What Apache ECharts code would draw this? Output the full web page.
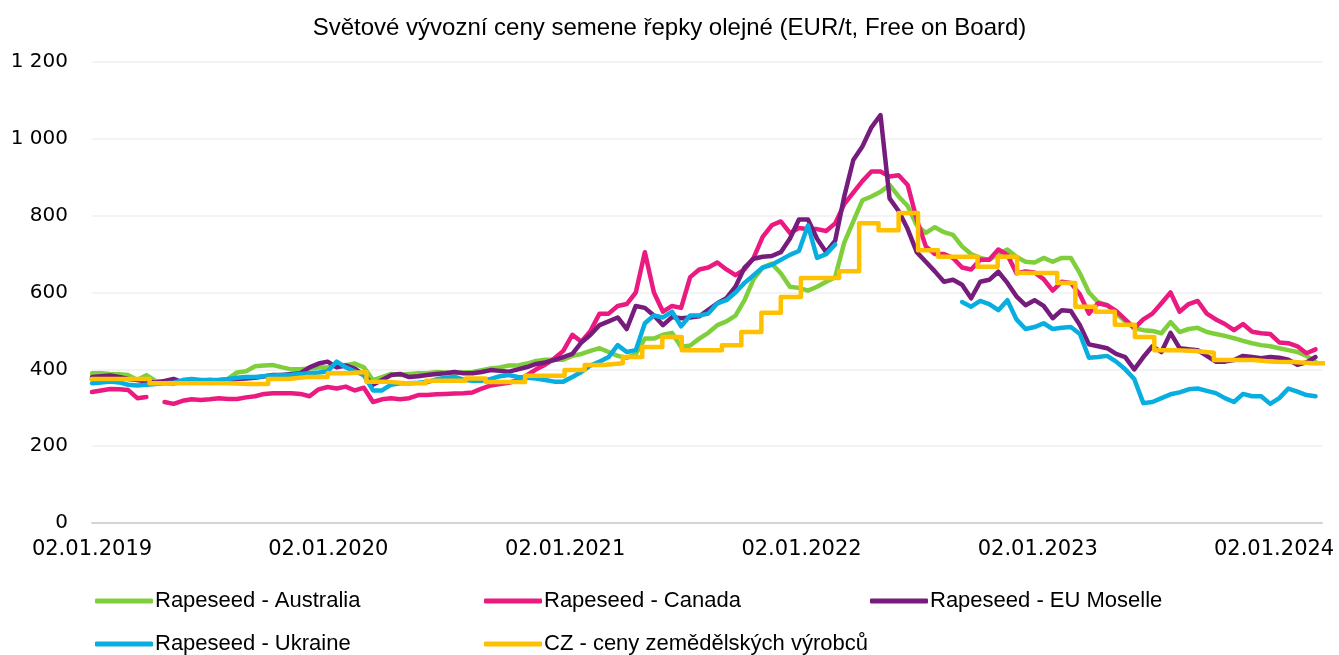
<!DOCTYPE html>
<html>
<head>
<meta charset="utf-8">
<title>Světové vývozní ceny semene řepky olejné</title>
<script src="https://cdn.jsdelivr.net/npm/echarts@6/dist/echarts.min.js"></script>
<style>
  html, body { margin: 0; padding: 0; background: #fff; }
  #chart { width: 1339px; height: 655px; }
</style>
</head>
<body>
<div id="chart"></div>
<script>
// weekly exchange data sampled every 14 days, starting 2. 1. 2019
const startDate = [2019, 0, 2]
const stepDays = 14

const australia = [
  390, 390, 388, 387, 385, 372, 385, 370, 365, 362, 368, 370, 370, 368, 370, 375, 392, 395, 408, 410,
  411, 405, 400, 400, 402, 405, 405, 410, 411, 415, 405, 372, 380, 388, 385, 388, 390, 390, 393, 392,
  390, 392, 393, 398, 402, 405, 410, 410, 415, 422, 425, 425, 425, 435, 440, 448, 455, 445, 435, 430,
  440, 480, 480, 490, 495, 458, 462, 480, 495, 515, 525, 540, 580, 635, 665, 675, 650, 615, 612, 605,
  615, 628, 640, 730, 785, 840, 850, 862, 880, 850, 825, 775, 755, 770, 757, 750, 720, 700, 690, 685,
  700, 712, 693, 680, 678, 690, 680, 690, 690, 650, 600, 575, 567, 545, 525, 507, 502, 500, 494, 523,
  497, 505, 508, 497, 492, 487, 481, 474, 468, 463, 460, 455, 450, 445, 435, 420
]
const canada = [
  341, 345, 349, 348, 346, 325, 328, null, 315, 310, 318, 322, 320, 322, 325, 323, 323, 327, 330, 336,
  338, 338, 338, 336, 330, 348, 354, 350, 355, 345, 352, 315, 322, 325, 322, 325, 333, 333, 335, 336,
  337, 338, 340, 350, 358, 362, 365, 372, 385, 400, 412, 428, 448, 490, 472, 500, 545, 545, 565, 570,
  600, 705, 600, 550, 565, 560, 640, 660, 665, 678, 660, 645, 660, 690, 745, 775, 785, 755, 768, 765,
  765, 760, 780, 830, 860, 890, 915, 915, 902, 905, 880, 790, 720, 700, 700, 690, 665, 660, 685, 685,
  712, 698, 650, 655, 652, 635, 605, 628, 625, 595, 545, 572, 567, 552, 530, 507, 530, 545, 572, 600,
  550, 570, 578, 545, 530, 518, 502, 518, 498, 494, 492, 470, 468, 460, 442, 452
]
const euMoselle = [
  380, 382, 384, 380, 375, 372, 368, 366, 370, 375, 366, 368, 370, 372, 370, 372, 375, 376, 378, 382,
  385, 385, 388, 390, 405, 415, 420, 405, 410, 402, 385, 360, 372, 385, 388, 380, 382, 385, 388, 390,
  393, 390, 390, 393, 398, 396, 394, 400, 406, 414, 418, 424, 432, 440, 470, 490, 515, 525, 535, 505,
  565, 560, 540, 515, 536, 533, 535, 538, 555, 572, 585, 615, 665, 688, 693, 695, 705, 740, 790, 790,
  740, 705, 735, 850, 945, 980, 1030, 1062, 845, 812, 765, 705, 680, 655, 628, 633, 620, 585, 628, 633,
  654, 625, 590, 567, 580, 565, 533, 554, 552, 515, 465, 460, 455, 440, 432, 400, 432, 460, 445, 495,
  455, 452, 450, 435, 420, 420, 424, 435, 432, 429, 432, 430, 425, 412, 418, 432
]
const ukraine = [
  364, 366, 368, 366, 360, 358, 360, 362, 364, 365, 372, 375, 372, 372, 373, 375, 378, 380, 380, 382,
  384, 385, 386, 388, 390, 392, 395, 420, 405, 395, 385, 345, 345, 360, 364, 364, 365, 367, 374, 378,
  380, 373, 370, 370, 375, 382, 385, 380, 378, 376, 372, 368, 368, 380, 393, 410, 420, 432, 463, 445,
  450, 520, 540, 535, 550, 512, 540, 540, 545, 572, 580, 600, 625, 645, 665, 672, 685, 698, 708, 775,
  690, 700, 725, null, null, null, null, null, null, null, null, null, null, null, null, null, 575, 563, 578, 570,
  554, 580, 530, 505, 510, 520, 505, 508, 510, 492, 430, 432, 435, 420, 400, 375, 312, 315, 325, 335,
  340, 348, 350, 344, 338, 325, 315, 336, 330, 330, 310, 325, 350, 342, 333, 330
]

// CZ monthly producer prices, Jan 2019 .. Apr 2024 (held as steps)
const czStartMonth = [2019, 0]
const czPrices = [
  375, 375, 375, 364, 364, 364, 364, 362, 362, 375, 380, 380,
  390, 393, 368, 364, 364, 370, 370, 376, 367, 367, 383, 383,
  398, 411, 416, 432, 458, 484, 450, 450, 463, 497, 547, 588,
  638, 638, 655, 780, 762, 807, 710, 693, 693, 667, 693, 651,
  651, 625, 563, 550, 516, 484, 450, 448, 443, 424, 424, 420,
  419, 416, 416, 416
]

const seriesNames = [
  'Rapeseed - Australia',
  'Rapeseed - Canada',
  'Rapeseed - EU Moselle',
  'Rapeseed - Ukraine',
  'CZ - ceny zemědělských výrobců'
]
const seriesColors = ['#7fcf3c', '#ea1a80', '#751c7c', '#07aedf', '#ffc000']

const xTickDates = ['2019-01-02', '2020-01-02', '2021-01-02', '2022-01-02', '2023-01-02', '2024-01-02']
const xMin = '2019-01-02'
const xMax = '2024-03-16'
const yTicks = [0, 200, 400, 600, 800, 1000, 1200]

const toTime = (s) => {
  const p = s.split('-').map(Number)
  return new Date(p[0], p[1] - 1, p[2]).getTime()
}
const weeklyPairs = (values) =>
  values.map((v, i) => [new Date(startDate[0], startDate[1], startDate[2] + stepDays * i).getTime(), v])
const monthlyPairs = (values) =>
  values.map((v, i) => [new Date(czStartMonth[0], czStartMonth[1] + i, 1).getTime(), v])

const pad = (n) => (n < 10 ? '0' + n : '' + n)
const fmtDate = (t) => {
  const d = new Date(t)
  return pad(d.getDate()) + '.' + pad(d.getMonth() + 1) + '.' + d.getFullYear()
}
const fmtNum = (v) => String(v).replace(/\B(?=(\d{3})+(?!\d))/g, ' ')

const chart = echarts.init(document.getElementById('chart'), null, { renderer: 'canvas' })

const lineSeries = (name, color, data, extra) =>
  Object.assign(
    {
      name: name,
      type: 'line',
      data: data,
      showSymbol: false,
      symbol: 'none',
      connectNulls: false,
      lineStyle: { color: color, width: 4.5, cap: 'round', join: 'round' },
      itemStyle: { color: color },
      emphasis: { disabled: true }
    },
    extra || {}
  )

const legendPos = [
  { left: 95, top: 590 },
  { left: 484, top: 590 },
  { left: 870, top: 590 },
  { left: 95, top: 633 },
  { left: 484, top: 633 }
]

chart.setOption({
  animation: false,
  backgroundColor: '#fff',
  textStyle: { fontFamily: 'Liberation Sans, Arial, sans-serif' },
  title: {
    text: 'Světové vývozní ceny semene řepky olejné (EUR/t, Free on Board)',
    left: 'center',
    top: 11,
    textStyle: { fontSize: 24, fontWeight: 'normal', color: '#000', fontFamily: 'Liberation Sans, Arial, sans-serif' }
  },
  legend: seriesNames.map((name, i) => ({
    data: [name],
    left: legendPos[i].left,
    top: legendPos[i].top,
    padding: 0,
    icon: 'roundRect',
    itemWidth: 58,
    itemHeight: 5,
    selectedMode: false,
    textStyle: { fontSize: 22, color: '#000', padding: [0, 0, 0, -3] }
  })),
  grid: { left: 92, right: 17, top: 62, bottom: 132 },
  xAxis: {
    type: 'value',
    min: toTime(xMin),
    max: toTime(xMax),
    axisLine: { show: true, lineStyle: { color: '#d4d4d4', width: 2 } },
    axisTick: { show: false },
    splitLine: { show: false },
    axisLabel: {
      customValues: xTickDates.map(toTime),
      formatter: (v) => fmtDate(v),
      fontSize: 21,
      color: '#000',
      margin: 16,
      fontFamily: 'DejaVu Sans, sans-serif',
      showMinLabel: true,
      showMaxLabel: true
    }
  },
  yAxis: {
    type: 'value',
    min: yTicks[0],
    max: yTicks[yTicks.length - 1],
    interval: yTicks[1] - yTicks[0],
    axisLine: { show: false },
    axisTick: { show: false },
    splitLine: { lineStyle: { color: '#efefef', width: 1.5 } },
    axisLabel: {
      formatter: (v) => fmtNum(v),
      fontSize: 20,
      color: '#000',
      margin: 24,
      fontFamily: 'DejaVu Sans, sans-serif'
    }
  },
  series: [
    lineSeries(seriesNames[0], seriesColors[0], weeklyPairs(australia)),
    lineSeries(seriesNames[1], seriesColors[1], weeklyPairs(canada)),
    lineSeries(seriesNames[2], seriesColors[2], weeklyPairs(euMoselle)),
    lineSeries(seriesNames[3], seriesColors[3], weeklyPairs(ukraine)),
    lineSeries(seriesNames[4], seriesColors[4], monthlyPairs(czPrices), { step: 'end' })
  ]
})
</script>
</body>
</html>
